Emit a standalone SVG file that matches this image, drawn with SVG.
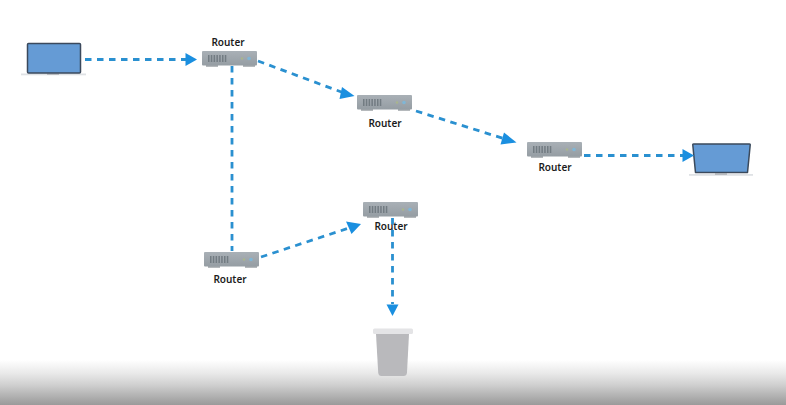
<svg xmlns="http://www.w3.org/2000/svg" width="786" height="405" viewBox="0 0 786 405">
<style>
.lbl{font-family:"Noto Sans","Liberation Sans",sans-serif;font-size:10px;font-weight:600;fill:#1c1c1c;text-anchor:middle}
.cn{fill:none;stroke:#2a90d0;stroke-width:2.800;stroke-dasharray:6.500 5.500}
.hd{fill:#1a8fe0}
.scr{fill:#659bd5;stroke:#3a4a5c;stroke-width:1.500;stroke-linejoin:round}
.base{fill:#dfe2e5}
.notch{fill:#a9adb1}
.body{fill:url(#rb)}
.foot{fill:#a3a8ac}
.vent{stroke:#727b82;stroke-width:7;stroke-dasharray:1.500 1.300;fill:none}
.soft{filter:url(#soft)}
</style>
<defs>
<filter id="soft" x="-10%" y="-10%" width="120%" height="120%"><feGaussianBlur stdDeviation="0.5"/></filter>
<linearGradient id="rb" x1="0" y1="0" x2="0" y2="1"><stop offset="0" stop-color="#a9b0b6"/><stop offset="1" stop-color="#959da3"/></linearGradient>
<linearGradient id="fade" x1="0" y1="0" x2="0" y2="1">
<stop offset="0" stop-color="#8f8f8f" stop-opacity="0"/>
<stop offset="0.3" stop-color="#8f8f8f" stop-opacity="0.2"/>
<stop offset="0.55" stop-color="#8f8f8f" stop-opacity="0.42"/>
<stop offset="0.9" stop-color="#8f8f8f" stop-opacity="0.8"/>
<stop offset="1" stop-color="#8f8f8f" stop-opacity="0.9"/>
</linearGradient>
<g id="router" class="soft">
<rect x="4" y="14" width="12" height="1.800" class="foot"/><rect x="41" y="14" width="12" height="1.800" class="foot"/>
<rect width="55" height="14.500" rx="1" class="body"/>
<path d="M6 7.500H25" class="vent"/>
<circle cx="47" cy="7.500" r="1.800" fill="#7fb6d6"/><circle cx="40" cy="7.500" r="1.200" fill="#a8b58c"/>
</g>
</defs>
<rect width="786" height="405" fill="#fff"/>
<rect id="bottom-fade" y="360" width="786" height="45" fill="url(#fade)"/>
<g id="laptop-left" class="soft">
<rect x="21" y="73.500" width="65" height="1.800" class="base"/>
<rect x="47" y="73.500" width="12" height="1.200" class="notch"/>
<rect x="27.500" y="43.500" width="53" height="29.500" rx="1" class="scr"/>
</g>
<g id="router-1"><use href="#router" x="202" y="51"/><text class="lbl" x="228" y="45.500">Router</text></g>
<g id="router-2"><use href="#router" x="357" y="95"/><text class="lbl" x="385" y="126.500">Router</text></g>
<g id="router-3"><use href="#router" x="527" y="142"/><text class="lbl" x="555" y="170.500">Router</text></g>
<g id="router-4"><use href="#router" x="204" y="252"/><text class="lbl" x="230" y="282.500">Router</text></g>
<g id="router-5"><use href="#router" x="363" y="202"/><text class="lbl" x="391" y="229.500">Router</text></g>
<g id="laptop-right" class="soft">
<rect x="689" y="174" width="64" height="1.800" class="base"/>
<rect x="715" y="173.500" width="12" height="1.200" class="notch"/>
<path class="scr" d="M693.500 144H749.500Q750.300 144 750.200 145L747.500 172.500H695.500L692.800 145Q692.700 144 693.500 144Z"/>
</g>
<g id="trash" class="soft">
<path d="M376 334H409L407 372.500Q406.800 376 403.500 376H381.500Q378.500 376 378.200 372.500Z" fill="#b9b9bc"/>
<rect x="373" y="328.500" width="40" height="5.500" rx="1.500" fill="#e4e4e6"/>
</g>
<g id="connectors">
<path class="cn" d="M85 59.500H187"/><path class="hd" d="M185.500 53L197 59.500L185.500 66Z"/>
<path class="cn" d="M258 61L344 93"/><path class="hd" d="M342 87L354.500 96L339.500 99Z"/>
<path class="cn" d="M416 111L505 139"/><path class="hd" d="M504 132.500L516.500 142.500L500.500 144.500Z"/>
<path class="cn" d="M584 155.500H684"/><path class="hd" d="M682.500 149L694 155.500L682.500 162Z"/>
<path class="cn" d="M232 66V251"/>
<path class="cn" d="M261 257L349 228"/><path class="hd" d="M346 221.500L361 224L351.500 234Z"/>
<path class="cn" d="M392.500 218V304"/><path class="hd" d="M386.500 304.500H398.500L392.500 316Z"/>
</g>
</svg>
